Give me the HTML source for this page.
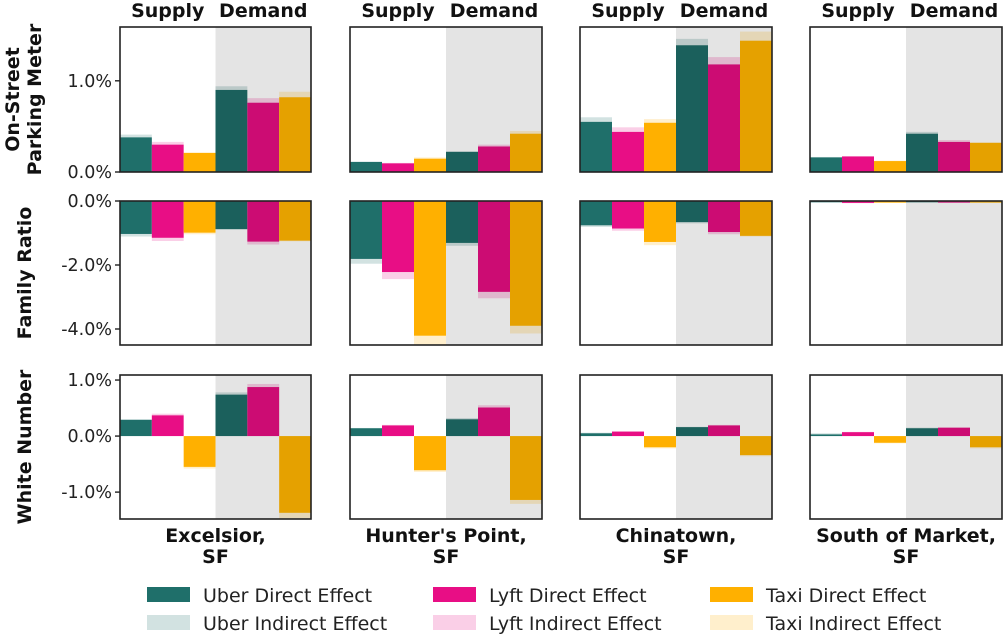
<!DOCTYPE html>
<html><head><meta charset="utf-8"><style>
body{margin:0;background:#fff;}
svg{display:block;font-family:"DejaVu Sans","Liberation Sans",sans-serif;}
</style></head><body>
<svg id="chart" width="1003" height="636" viewBox="0 0 1003 636" xmlns="http://www.w3.org/2000/svg"></svg>
<script>
// Order per panel: [Uber S, Lyft S, Taxi S, Uber D, Lyft D, Taxi D]
const neighborhoods = ["Excelsior,|SF","Hunter's Point,|SF","Chinatown,|SF","South of Market,|SF"];
const rowTitles = [["On-Street","Parking Meter"],["Family Ratio"],["White Number"]];
const meterDirect = [[0.38,0.30,0.21,0.90,0.76,0.82],[0.11,0.095,0.146,0.22,0.28,0.42],[0.55,0.44,0.54,1.39,1.18,1.44],[0.16,0.17,0.12,0.42,0.33,0.32]];
const meterIndirect = [[0.03,0.03,0.0,0.04,0.05,0.06],[0.005,0.005,0.014,0.01,0.02,0.03],[0.05,0.05,0.04,0.07,0.08,0.10],[0.005,0.005,0.005,0.02,0.02,0.005]];
const familyDirect = [[-1.03,-1.15,-0.99,-0.875,-1.27,-1.24],[-1.81,-2.22,-4.21,-1.31,-2.84,-3.90],[-0.76,-0.86,-1.28,-0.66,-0.97,-1.09],[-0.04,-0.06,-0.05,-0.04,-0.05,-0.05]];
const familyIndirect = [[-0.08,-0.10,-0.05,-0.03,-0.09,-0.02],[-0.15,-0.22,-0.29,-0.09,-0.20,-0.24],[-0.05,-0.07,-0.10,-0.04,-0.07,-0.02],[-0.01,-0.01,-0.01,-0.01,-0.01,-0.01]];
const whiteDirect = [[0.29,0.37,-0.55,0.74,0.875,-1.37],[0.14,0.19,-0.61,0.30,0.51,-1.14],[0.05,0.08,-0.20,0.16,0.19,-0.34],[0.03,0.07,-0.12,0.14,0.15,-0.20]];
const whiteIndirect = [[0.01,0.03,-0.03,0.04,0.055,-0.10],[0.005,0.01,-0.03,0.02,0.04,-0.07],[0.01,0.005,-0.02,0.005,0.01,-0.02],[0.02,0.005,-0.01,0.01,0.005,-0.02]];
const rowTicks = [[0,1.0],[0,-2.0,-4.0],[1.0,0,-1.0]];
const rowTickLabels = [["0.0%","1.0%"],["0.0%","-2.0%","-4.0%"],["1.0%","0.0%","-1.0%"]];
const rowLimits = [[0,1.59],[-4.5,0],[-1.48,1.09]];
const legendLabels = ["Uber Direct Effect","Lyft Direct Effect","Taxi Direct Effect","Uber Indirect Effect","Lyft Indirect Effect","Taxi Indirect Effect"];

const direct=[meterDirect,familyDirect,whiteDirect], indirect=[meterIndirect,familyIndirect,whiteIndirect];
const colors=["#1f6f6a","#e80e85","#ffb000","#1b605c","#cc0c73","#e5a100"];
const colX=[[120,311],[350,542],[580,772],[810,1002]];
const rowY=[[27,172],[201,345],[375,519]];
const svg=document.getElementById('chart');
const NS="http://www.w3.org/2000/svg";
function mk(tag,attrs,parent){const e=document.createElementNS(NS,tag);for(const k in attrs)e.setAttribute(k,attrs[k]);(parent||svg).appendChild(e);return e;}
function txt(s,attrs,parent){const e=mk('text',attrs,parent);e.textContent=s;return e;}

for(let r=0;r<3;r++){
  const [y0,y1]=rowY[r],[lo,hi]=rowLimits[r];
  const yS=v=>y1-(v-lo)/(hi-lo)*(y1-y0);
  for(let c=0;c<4;c++){
    const [x0,x1]=colX[c];
    const g=mk('g',{});
    
    
    const bw=(x1-x0)/6;
    const sh=mk('rect',{x:x0+3*bw,y:y0,width:3*bw,height:y1-y0,fill:'#e4e4e4'},g);
    
    
    for(let i=0;i<6;i++){
      const d=direct[r][c][i], ind=indirect[r][c][i];
      const bx=x0+i*bw;
      const a=yS(d),b=yS(0),e2=yS(d+ind);
      const ir=mk('rect',{x:bx,y:Math.min(a,e2),width:bw,height:Math.abs(e2-a),fill:colors[i],'fill-opacity':0.2},g);
      
      
      const dr=mk('rect',{x:bx,y:Math.min(a,b),width:bw,height:Math.abs(b-a),fill:colors[i]},g);
      
      
    }
    const fr=mk('rect',{x:x0,y:y0,width:x1-x0,height:y1-y0,fill:'none',stroke:'#222','stroke-width':1.6},g);
    
    
    if(c===0){
      rowTicks[r].forEach((t,k)=>{
        const y=yS(t);
        mk('line',{x1:x0-5,x2:x0,y1:y,y2:y,stroke:'#222','stroke-width':1.4});
        const tl=txt(rowTickLabels[r][k],{x:x0-8,y:y+6,'text-anchor':'end','font-size':17.5,fill:'#222'});
        
        
      });
    }
    if(r===0){
      const s=txt('Supply',{x:x0+bw*1.5,y:17,'text-anchor':'middle','font-size':19,'font-weight':'bold',fill:'#111'});
      
      
      const dm=txt('Demand',{x:x0+bw*4.5,y:17,'text-anchor':'middle','font-size':19,'font-weight':'bold',fill:'#111'});
      
      
    }
    if(r===2){
      const parts=neighborhoods[c].split('|');
      parts.forEach((p,k)=>{
        const t=txt(p,{x:(x0+x1)/2,y:542+k*21,'text-anchor':'middle','font-size':19,'font-weight':'bold',fill:'#111'});
        
        
      });
    }
  }
  const cy=(y0+y1)/2, lines=rowTitles[r];
  lines.forEach((l,k)=>{
    const x=lines.length===1?31:19+k*22;
    const t=txt(l,{x:x,y:cy,'text-anchor':'middle','font-size':19,'font-weight':'bold',fill:'#111',transform:'rotate(-90 '+x+' '+cy+')'});
    
    
  });
}
// legend
const lx=[147,433,710];
for(let k=0;k<6;k++){
  const col=k%3,row=Math.floor(k/3);
  const y=595+row*28;
  const g=mk('g',{});
  
  
  mk('rect',{x:lx[col],y:y-8,width:43,height:15,fill:colors[col],'fill-opacity':row===0?1:0.2},g);
  txt(legendLabels[k],{x:lx[col]+56,y:y+7,'font-size':19,fill:'#222'},g);
}
</script>
</body></html>
